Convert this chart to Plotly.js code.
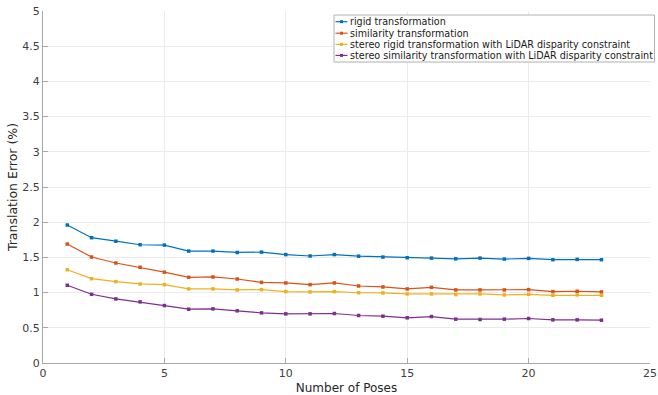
<!DOCTYPE html>
<html>
<head>
<meta charset="utf-8">
<script src="https://cdn.plot.ly/plotly-3.0.1.min.js"></script>
<style>html,body{margin:0;padding:0;background:#fff;}#chart{width:658px;height:395px;}</style>
</head>
<body>
<div id="chart"></div>
<script>
// ---- data ----
const poses = [1,2,3,4,5,6,7,8,9,10,11,12,13,14,15,16,17,18,19,20,21,22,23];
const rigid = [1.96,1.78,1.73,1.68,1.675,1.59,1.59,1.57,1.575,1.54,1.52,1.54,1.517,1.505,1.495,1.49,1.48,1.49,1.476,1.486,1.467,1.472,1.467];
const similarity = [1.69,1.505,1.42,1.36,1.29,1.217,1.222,1.193,1.146,1.137,1.113,1.137,1.094,1.08,1.052,1.075,1.038,1.038,1.038,1.042,1.014,1.019,1.009];
const stereoRigid = [1.325,1.198,1.156,1.123,1.113,1.052,1.052,1.038,1.042,1.014,1.009,1.014,0.998,0.995,0.981,0.981,0.972,0.981,0.967,0.976,0.962,0.967,0.962];
const stereoSimilarity = [1.104,0.976,0.91,0.868,0.816,0.764,0.769,0.741,0.712,0.698,0.698,0.703,0.675,0.665,0.642,0.66,0.623,0.618,0.623,0.632,0.613,0.613,0.608];
const seriesNames = ["rigid transformation","similarity transformation","stereo rigid transformation with LiDAR disparity constraint","stereo similarity transformation with LiDAR disparity constraint"];
const seriesColors = ["#0072BD","#D95319","#EDB120","#7E2F8E"];
const xTicks = [0,5,10,15,20,25];
const yTicks = [0,0.5,1,1.5,2,2.5,3,3.5,4,4.5,5];
const yTickText = ["0","0.5","1","1.5","2","2.5","3","3.5","4","4.5","5"];

// ---- layout geometry ----
const W = 658, H = 395;
const mL = 42.5, mR = 7.5, mT = 11, mB = 32;
const pw = W - mL - mR, ph = H - mT - mB;
const px = x => (x - mL) / pw;
const py = y => 1 - (y - mT) / ph;

const ys = [rigid, similarity, stereoRigid, stereoSimilarity];
const traces = ys.map((y, i) => ({
  x: poses, y: y, type: 'scatter', mode: 'lines+markers', name: seriesNames[i],
  line: {color: seriesColors[i], width: 1.2},
  marker: {color: seriesColors[i], size: 3.5, symbol: 'square'},
  showlegend: false, hoverinfo: 'skip', cliponaxis: false
}));

// custom legend (MATLAB-style compact box)
const legL = 334, legR = 655, legT = 15, legB = 62;
const rowY = [21.7, 33.2, 44.4, 55.4];
const shapes = [{
  type: 'rect', xref: 'paper', yref: 'paper',
  x0: px(legL), x1: px(legR), y0: py(legB), y1: py(legT),
  line: {color: '#b0b0b0', width: 1}, fillcolor: '#ffffff', layer: 'above'
}];
const annotations = [];
seriesNames.forEach((n, i) => {
  shapes.push({type: 'line', xref: 'paper', yref: 'paper', x0: px(335.5), x1: px(347.5), y0: py(rowY[i]), y1: py(rowY[i]),
    line: {color: seriesColors[i], width: 1.2}, layer: 'above'});
  shapes.push({type: 'rect', xref: 'paper', yref: 'paper', x0: px(340), x1: px(343), y0: py(rowY[i] + 1.5), y1: py(rowY[i] - 1.5),
    line: {width: 0}, fillcolor: seriesColors[i], layer: 'above'});
  annotations.push({xref: 'paper', yref: 'paper', x: px(348.5), y: py(rowY[i]), xanchor: 'left', yanchor: 'middle',
    text: n, showarrow: false, font: {family: 'DejaVu Sans', size: 9.6, color: '#1a1a1a'}});
});

const layout = {
  width: W, height: H,
  margin: {l: mL, r: mR, t: mT, b: mB, pad: 0},
  paper_bgcolor: '#ffffff', plot_bgcolor: '#ffffff',
  font: {family: 'DejaVu Sans', size: 11, color: '#404040'},
  showlegend: false,
  xaxis: {
    range: [0, 25], tickvals: xTicks, ticktext: xTicks.map(String),
    showgrid: true, gridcolor: '#ebebeb', gridwidth: 1, zeroline: false,
    showline: true, linecolor: '#a8a8a8', linewidth: 1, mirror: false,
    ticks: 'inside', ticklen: 5, tickcolor: '#a8a8a8', ticklabeloverflow: 'allow',
    tickfont: {family: 'DejaVu Sans', size: 11, color: '#404040'},
    title: {text: 'Number of Poses', font: {family: 'DejaVu Sans', size: 12, color: '#262626'}, standoff: 4}
  },
  yaxis: {
    range: [0, 5], tickvals: yTicks, ticktext: yTickText,
    showgrid: true, gridcolor: '#ebebeb', gridwidth: 1, zeroline: false,
    showline: true, linecolor: '#a8a8a8', linewidth: 1, mirror: false,
    ticks: 'inside', ticklen: 5, tickcolor: '#a8a8a8',
    tickfont: {family: 'DejaVu Sans', size: 11, color: '#404040'},
    title: {text: 'Translation Error (%)', font: {family: 'DejaVu Sans', size: 12.5, color: '#262626'}, standoff: 1}
  },
  shapes: shapes,
  annotations: annotations
};

Plotly.newPlot('chart', traces, layout, {displayModeBar: false, staticPlot: true});
</script>
</body>
</html>
